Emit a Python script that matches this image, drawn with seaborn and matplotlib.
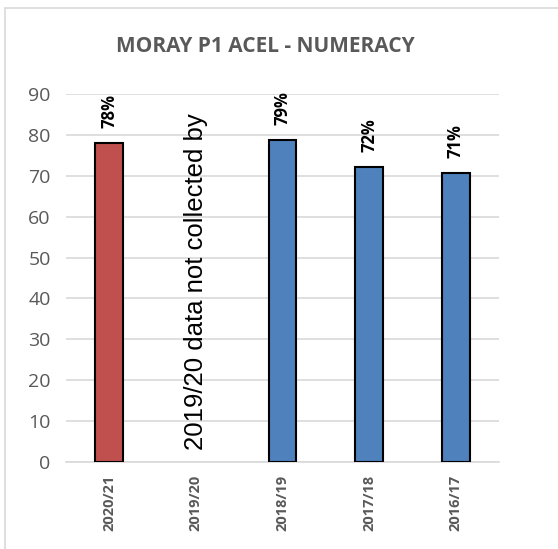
import numpy as np
import matplotlib.pyplot as plt
import matplotlib.patches as mpatches
import seaborn as sns
import pandas as pd

sns.set_theme(style='white')
plt.rcParams['font.family'] = ['Open Sans', 'DejaVu Sans']

years = ['2020/21', '2019/20', '2018/19', '2017/18', '2016/17']
values = [78.0, np.nan, 78.7, 72.2, 70.7]
bar_colors = ['#C0504D', '#4F81BD', '#4F81BD', '#4F81BD', '#4F81BD']
yticks = [0, 10, 20, 30, 40, 50, 60, 70, 80, 90]
title = 'MORAY P1 ACEL - NUMERACY'
note = '2019/20 data not collected by'

df = pd.DataFrame({'year': years, 'value': values}).dropna()

fig = plt.figure(figsize=(5.58, 5.49), dpi=100)
ax = fig.add_axes([66/558, 1-462/549, 433/558, 368/549])

# chart border like the office export
fig.patches.append(mpatches.Rectangle((5/558, -0.02), 1.05, 1-8/549+0.02,
                                      transform=fig.transFigure, fill=False,
                                      edgecolor='#D9D9D9', linewidth=1.2))

sns.barplot(data=df, x='year', y='value', hue='year', order=years,
            hue_order=years, palette=dict(zip(years, bar_colors)),
            saturation=1, width=0.32, edgecolor='black', linewidth=1.5,
            legend=False, zorder=3, ax=ax)

for c in ax.containers:
    ax.bar_label(c, fmt='%.0f%%', rotation=90, padding=11, fontsize=12,
                 fontweight='bold', color='black', family='Open Sans')

ax.text(1, 3, note, rotation=90, ha='center', va='bottom', fontsize=18.5,
        family='Liberation Sans', color='black')

ax.set_ylim(0, 90)
ax.set_xlim(-0.5, 4.5)
ax.set_yticks(yticks)
ax.yaxis.grid(True, color='#D9D9D9', linewidth=1.2, zorder=0)
ax.set_axisbelow(True)
for s in ['top', 'right', 'left']:
    ax.spines[s].set_visible(False)
ax.spines['bottom'].set_color('#D9D9D9')
ax.spines['bottom'].set_linewidth(1.2)
ax.tick_params(axis='y', length=0, pad=11, labelsize=14, labelcolor='#595959')
ax.tick_params(axis='x', length=0, pad=9, labelsize=10.5, labelcolor='#595959')
plt.setp(ax.get_xticklabels(), rotation=90, fontweight='bold')
ax.set_xlabel('')
ax.set_ylabel('')

fig.text(265/558, 1-46/549, title, ha='center', va='center', fontsize=15,
         fontweight='bold', color='#595959')

fig.savefig('out.png', dpi=100)
